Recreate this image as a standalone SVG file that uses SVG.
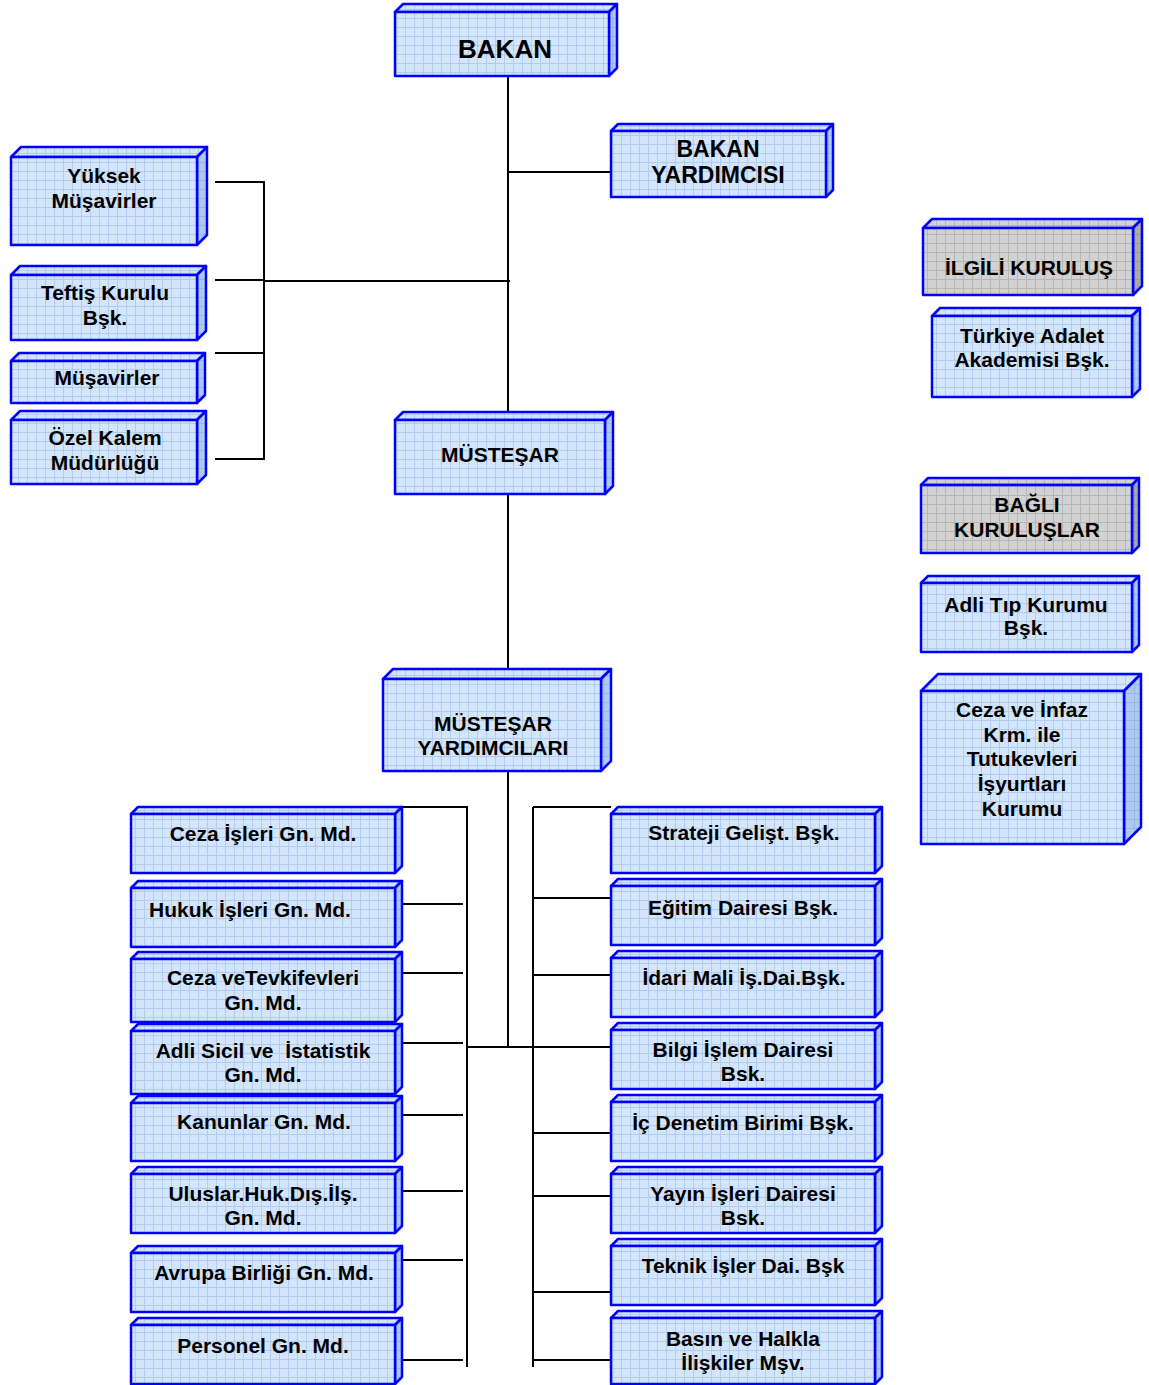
<svg xmlns="http://www.w3.org/2000/svg" width="1149" height="1385" viewBox="0 0 1149 1385">
<defs>
<pattern id="gb" width="9" height="9" patternUnits="userSpaceOnUse"><rect width="9" height="9" fill="#D3E5FB"/><path d="M0,0.5H9M0.5,0V9" stroke="#B2CCF0" stroke-width="1"/></pattern>
<pattern id="gbs" width="9" height="9" patternUnits="userSpaceOnUse"><rect width="9" height="9" fill="#AFC8EE"/><path d="M0,0.5H9M0.5,0V9" stroke="#98B6E4" stroke-width="1"/></pattern>
<pattern id="gg" width="9" height="9" patternUnits="userSpaceOnUse"><rect width="9" height="9" fill="#D2D2D2"/><path d="M0,0.5H9M0.5,0V9" stroke="#B6B6B6" stroke-width="1"/></pattern>
<pattern id="ggs" width="9" height="9" patternUnits="userSpaceOnUse"><rect width="9" height="9" fill="#ABABAB"/><path d="M0,0.5H9M0.5,0V9" stroke="#999" stroke-width="1"/></pattern>
</defs>
<style>
.f{fill:url(#gb);stroke:#0000FF;stroke-width:2.5;stroke-linejoin:round}
.s{fill:url(#gbs);stroke:#0000FF;stroke-width:2.5;stroke-linejoin:round}
.fg{fill:url(#gg);stroke:#0000FF;stroke-width:2.5;stroke-linejoin:round}
.sg{fill:url(#ggs);stroke:#0000FF;stroke-width:2.5;stroke-linejoin:round}
text{font-family:"Liberation Sans",Arial,sans-serif;font-weight:bold;font-size:21px;text-anchor:middle;fill:#000;white-space:pre}
.c{fill:none;stroke:#000;stroke-width:2}
</style>
<g id="connectors" class="c">
<path d="M508,77V420M508,172H611"/>
<path d="M215,182H264V459H215M215,280H264M215,353H264M264,281H510"/>
<path d="M508,494V669M508,771V1047"/>
<path d="M400,807H467V1367M467,1047H611"/>
<path d="M402,904H463M402,973H463M402,1043H463M402,1115H463M402,1191H463M402,1260H463M402,1360H463"/>
<path d="M533,807H611M533,807V1367"/>
<path d="M533,898H611M533,975H611M533,1133H611M533,1196H611M533,1292H611M533,1360H611"/>
</g>
<g id="bakan"><path class="f" d="M395,12L403,4H617L609,12Z"/><path class="s" d="M609,12L617,4V68L609,76Z"/><rect class="f" x="395" y="12" width="214" height="64"/><text x="505" y="58" style="font-size:26px">BAKAN</text></g>
<g id="bakan-yardimcisi"><path class="f" d="M611,131L618,124H833L826,131Z"/><path class="s" d="M826,131L833,124V190L826,197Z"/><rect class="f" x="611" y="131" width="215" height="66"/><text x="718" y="157" style="font-size:23px">BAKAN</text><text x="718" y="183" style="font-size:23px">YARDIMCISI</text></g>
<g id="yuksek"><path class="f" d="M11,157L21,147H207L197,157Z"/><path class="s" d="M197,157L207,147V235L197,245Z"/><rect class="f" x="11" y="157" width="186" height="88"/><text x="104" y="183">Yüksek</text><text x="104" y="208">Müşavirler</text></g>
<g id="teftis"><path class="f" d="M11,275L20,266H206L197,275Z"/><path class="s" d="M197,275L206,266V331L197,340Z"/><rect class="f" x="11" y="275" width="186" height="65"/><text x="105" y="300">Teftiş Kurulu</text><text x="105" y="325">Bşk.</text></g>
<g id="musavirler"><path class="f" d="M11,361L19,353H205L197,361Z"/><path class="s" d="M197,361L205,353V395L197,403Z"/><rect class="f" x="11" y="361" width="186" height="42"/><text x="107" y="385">Müşavirler</text></g>
<g id="ozel-kalem"><path class="f" d="M11,420L20,411H206L197,420Z"/><path class="s" d="M197,420L206,411V475L197,484Z"/><rect class="f" x="11" y="420" width="186" height="64"/><text x="105" y="445">Özel Kalem</text><text x="105" y="470">Müdürlüğü</text></g>
<g id="mustesar"><path class="f" d="M395,420L403,412H613L605,420Z"/><path class="s" d="M605,420L613,412V486L605,494Z"/><rect class="f" x="395" y="420" width="210" height="74"/><text x="500" y="462">MÜSTEŞAR</text></g>
<g id="mustesar-yardimcilari"><path class="f" d="M383,679L393,669H611L601,679Z"/><path class="s" d="M601,679L611,669V761L601,771Z"/><rect class="f" x="383" y="679" width="218" height="92"/><text x="493" y="731">MÜSTEŞAR</text><text x="493" y="755">YARDIMCILARI</text></g>
<g id="ilgili"><path class="fg" d="M923,228L932,219H1142L1133,228Z"/><path class="sg" d="M1133,228L1142,219V286L1133,295Z"/><rect class="fg" x="923" y="228" width="210" height="67"/><text x="1029" y="275">İLGİLİ KURULUŞ</text></g>
<g id="adalet-akademisi"><path class="f" d="M932,316L940,308H1140L1132,316Z"/><path class="s" d="M1132,316L1140,308V389L1132,397Z"/><rect class="f" x="932" y="316" width="200" height="81"/><text x="1032" y="343">Türkiye Adalet</text><text x="1032" y="367">Akademisi Bşk.</text></g>
<g id="bagli"><path class="fg" d="M921,485L928,478H1139L1132,485Z"/><path class="sg" d="M1132,485L1139,478V546L1132,553Z"/><rect class="fg" x="921" y="485" width="211" height="68"/><text x="1027" y="512">BAĞLI</text><text x="1027" y="537">KURULUŞLAR</text></g>
<g id="adli-tip"><path class="f" d="M921,583L928,576H1139L1132,583Z"/><path class="s" d="M1132,583L1139,576V645L1132,652Z"/><rect class="f" x="921" y="583" width="211" height="69"/><text x="1026" y="612">Adli Tıp Kurumu</text><text x="1026" y="635">Bşk.</text></g>
<g id="isyurtlari"><path class="f" d="M921,691L938,674H1141L1124,691Z"/><path class="s" d="M1124,691L1141,674V827L1124,844Z"/><rect class="f" x="921" y="691" width="203" height="153"/><text x="1022" y="717">Ceza ve İnfaz</text><text x="1022" y="742">Krm. ile</text><text x="1022" y="766">Tutukevleri</text><text x="1022" y="791">İşyurtları</text><text x="1022" y="816">Kurumu</text></g>
<g id="l1"><path class="f" d="M131,814L138,807H402L395,814Z"/><path class="s" d="M395,814L402,807V866L395,873Z"/><rect class="f" x="131" y="814" width="264" height="59"/><text x="263" y="841">Ceza İşleri Gn. Md.</text></g>
<g id="l2"><path class="f" d="M131,888L138,881H402L395,888Z"/><path class="s" d="M395,888L402,881V940L395,947Z"/><rect class="f" x="131" y="888" width="264" height="59"/><text x="250" y="917">Hukuk İşleri Gn. Md.</text></g>
<g id="l3"><path class="f" d="M131,959L138,952H402L395,959Z"/><path class="s" d="M395,959L402,952V1015L395,1022Z"/><rect class="f" x="131" y="959" width="264" height="63"/><text x="263" y="985">Ceza veTevkifevleri</text><text x="263" y="1010">Gn. Md.</text></g>
<g id="l4"><path class="f" d="M131,1031L138,1024H402L395,1031Z"/><path class="s" d="M395,1031L402,1024V1087L395,1094Z"/><rect class="f" x="131" y="1031" width="264" height="63"/><text x="263" y="1058">Adli Sicil ve  İstatistik</text><text x="263" y="1082">Gn. Md.</text></g>
<g id="l5"><path class="f" d="M131,1103L138,1096H402L395,1103Z"/><path class="s" d="M395,1103L402,1096V1154L395,1161Z"/><rect class="f" x="131" y="1103" width="264" height="58"/><text x="264" y="1129">Kanunlar Gn. Md.</text></g>
<g id="l6"><path class="f" d="M131,1174L138,1167H402L395,1174Z"/><path class="s" d="M395,1174L402,1167V1226L395,1233Z"/><rect class="f" x="131" y="1174" width="264" height="59"/><text x="263" y="1201">Uluslar.Huk.Dış.İlş.</text><text x="263" y="1225">Gn. Md.</text></g>
<g id="l7"><path class="f" d="M131,1253L138,1246H402L395,1253Z"/><path class="s" d="M395,1253L402,1246V1305L395,1312Z"/><rect class="f" x="131" y="1253" width="264" height="59"/><text x="264" y="1280">Avrupa Birliği Gn. Md.</text></g>
<g id="l8"><path class="f" d="M131,1325L138,1318H402L395,1325Z"/><path class="s" d="M395,1325L402,1318V1377L395,1384Z"/><rect class="f" x="131" y="1325" width="264" height="59"/><text x="263" y="1353">Personel Gn. Md.</text></g>
<g id="r1"><path class="f" d="M611,814L618,807H882L875,814Z"/><path class="s" d="M875,814L882,807V866L875,873Z"/><rect class="f" x="611" y="814" width="264" height="59"/><text x="744" y="840">Strateji Gelişt. Bşk.</text></g>
<g id="r2"><path class="f" d="M611,886L618,879H882L875,886Z"/><path class="s" d="M875,886L882,879V938L875,945Z"/><rect class="f" x="611" y="886" width="264" height="59"/><text x="743" y="915">Eğitim Dairesi Bşk.</text></g>
<g id="r3"><path class="f" d="M611,958L618,951H882L875,958Z"/><path class="s" d="M875,958L882,951V1010L875,1017Z"/><rect class="f" x="611" y="958" width="264" height="59"/><text x="744" y="985">İdari Mali İş.Dai.Bşk.</text></g>
<g id="r4"><path class="f" d="M611,1030L618,1023H882L875,1030Z"/><path class="s" d="M875,1030L882,1023V1082L875,1089Z"/><rect class="f" x="611" y="1030" width="264" height="59"/><text x="743" y="1057">Bilgi İşlem Dairesi</text><text x="743" y="1081">Bsk.</text></g>
<g id="r5"><path class="f" d="M611,1102L618,1095H882L875,1102Z"/><path class="s" d="M875,1102L882,1095V1154L875,1161Z"/><rect class="f" x="611" y="1102" width="264" height="59"/><text x="743" y="1130">İç Denetim Birimi Bşk.</text></g>
<g id="r6"><path class="f" d="M611,1174L618,1167H882L875,1174Z"/><path class="s" d="M875,1174L882,1167V1226L875,1233Z"/><rect class="f" x="611" y="1174" width="264" height="59"/><text x="743" y="1201">Yayın İşleri Dairesi</text><text x="743" y="1225">Bsk.</text></g>
<g id="r7"><path class="f" d="M611,1246L618,1239H882L875,1246Z"/><path class="s" d="M875,1246L882,1239V1298L875,1305Z"/><rect class="f" x="611" y="1246" width="264" height="59"/><text x="743" y="1273">Teknik İşler Dai. Bşk</text></g>
<g id="r8"><path class="f" d="M611,1318L618,1311H882L875,1318Z"/><path class="s" d="M875,1318L882,1311V1377L875,1384Z"/><rect class="f" x="611" y="1318" width="264" height="66"/><text x="743" y="1346">Basın ve Halkla</text><text x="743" y="1370">İlişkiler Mşv.</text></g>
</svg>
